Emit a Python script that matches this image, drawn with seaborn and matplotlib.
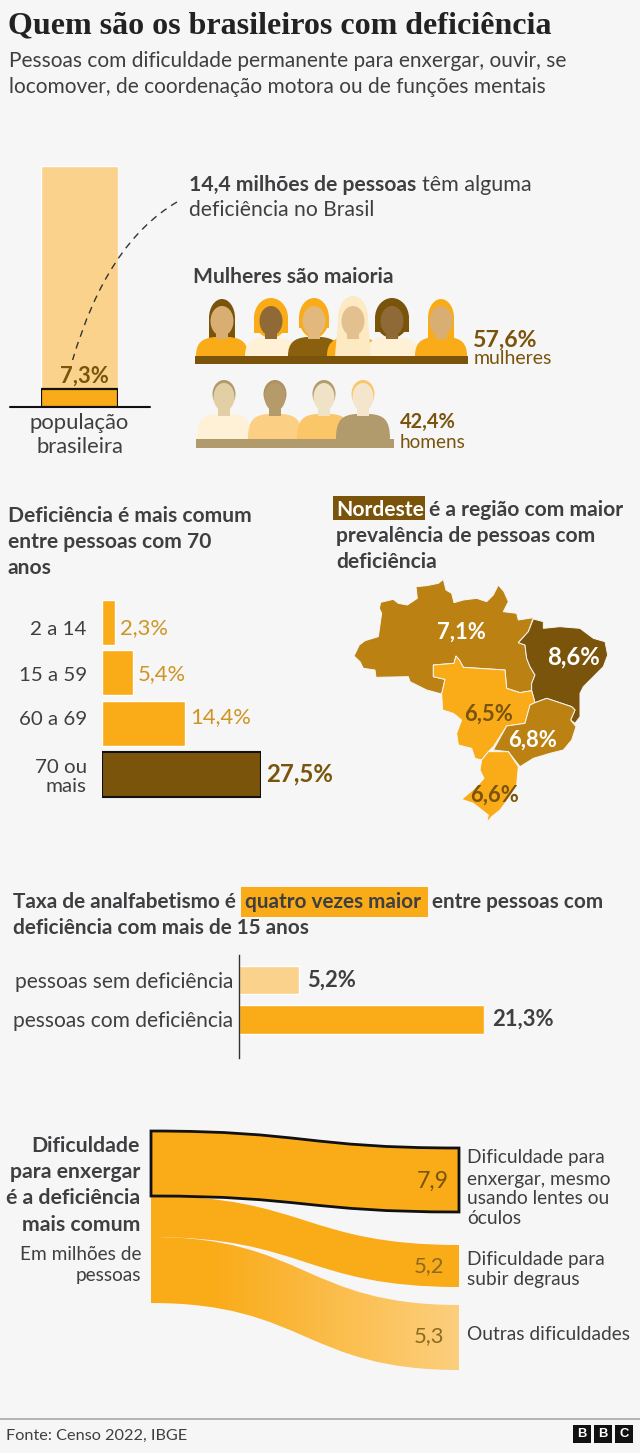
import numpy as np
import pandas as pd
import matplotlib
matplotlib.use("Agg")
import matplotlib.pyplot as plt
import seaborn as sns
from matplotlib.colors import LinearSegmentedColormap
from matplotlib.patches import Ellipse, PathPatch, Polygon, Rectangle
from matplotlib.path import Path
from matplotlib.transforms import ScaledTranslation

# Dados
age_groups = ["2 a 14", "15 a 59", "60 a 69", "70 ou\nmais"]
age_values = [2.3, 5.4, 14.4, 27.5]
age_labels = ["2,3%", "5,4%", "14,4%", "27,5%"]
illit_groups = ["pessoas sem deficiência", "pessoas com deficiência"]
illit_values = [5.2, 21.3]
illit_labels = ["5,2%", "21,3%"]
pop_total = 100
pop_share = 7.3
region_values = ["7,1%", "8,6%", "6,5%", "6,8%", "6,6%"]
sankey_values = ["7,9", "5,2", "5,3"]

# Contornos do mapa (pixels do zoom 3x)
north = [(72, 258), (88, 225), (105, 212), (145, 200), (155, 130), (148, 115), (152, 97), (190, 88), (205, 100),
         (232, 105), (262, 85), (258, 50), (290, 47), (325, 40), (340, 28), (348, 60), (365, 70), (372, 98), (400, 90),
         (440, 85), (470, 95), (490, 75), (505, 45), (522, 65), (535, 95), (520, 125), (560, 130), (565, 150),
         (610, 143), (595, 185), (565, 218), (585, 225), (590, 265), (600, 290), (615, 315), (605, 340), (605, 362),
         (570, 368), (530, 355), (525, 300), (400, 292), (388, 270), (378, 258), (372, 280), (310, 285), (310, 320),
         (345, 328), (335, 372), (290, 360), (240, 335), (235, 320), (138, 322), (135, 300), (100, 295), (90, 275)]
northeast = [(610, 147), (640, 155), (640, 175), (690, 170), (750, 175), (790, 205), (825, 215), (833, 255), (820, 290),
             (790, 320), (760, 350), (750, 370), (750, 440), (735, 460), (722, 450), (735, 420), (725, 410), (650, 385),
             (615, 398), (605, 362), (605, 340), (615, 315), (600, 290), (590, 265), (585, 225), (565, 218), (595, 185)]
center_west = [(310, 285), (372, 280), (378, 258), (388, 270), (400, 292), (525, 300), (530, 355), (570, 368), (605, 362),
               (615, 398), (600, 405), (585, 460), (530, 468), (490, 530), (475, 545), (455, 570), (435, 565), (425, 535),
               (385, 525), (380, 490), (395, 450), (370, 430), (338, 420), (335, 372), (345, 328), (310, 320)]
southeast = [(490, 540), (530, 468), (585, 460), (600, 405), (615, 398), (650, 385), (725, 410), (735, 420), (722, 450),
             (738, 470), (725, 510), (700, 540), (660, 550), (610, 565), (570, 590), (535, 545)]
south = [(475, 545), (535, 545), (565, 590), (560, 645), (540, 680), (510, 720), (485, 740), (470, 758), (475, 735),
         (430, 700), (395, 688), (440, 650), (462, 625), (450, 600), (455, 570)]

ORANGE = "#FAAB18"
PALE = "#FBD28B"
BROWN = "#7A540B"
MID = "#BB8213"
INK = "#3F3F42"
BG = "#F6F6F6"

sns.set_theme(style="white")
plt.rcParams["font.family"] = ["Lato", "DejaVu Sans"]

W, H = 640, 1453
fig = plt.figure(figsize=(W / 100, H / 100), dpi=100, facecolor=BG)

# eixo em pixels para textos e desenhos
bg = fig.add_axes([0, 0, 1, 1])
bg.set_xlim(0, W)
bg.set_ylim(H, 0)
bg.axis("off")


def px_axes(x0, y0, x1, y1):
    a = fig.add_axes([x0 / W, 1 - y1 / H, (x1 - x0) / W, (y1 - y0) / H])
    a.patch.set_alpha(0)
    return a


def put(x, y, s, size=19.1, color=INK, weight="normal", ha="left", **kw):
    return bg.text(x, y + 1, s, fontsize=size * 0.72, color=color, fontweight=weight, ha=ha, va="center", **kw)


# titulo
put(8, 25, "Quem são os brasileiros com deficiência", size=32, color="#222222", weight="bold", family="Liberation Serif")
put(9, 60, "Pessoas com dificuldade permanente para enxergar, ouvir, se", size=20.9)
put(9, 86, "locomover, de coordenação motora ou de funções mentais", size=20.9)

# barra da populacao
ax = px_axes(41, 166, 118, 407)
sns.barplot(x=["população\nbrasileira"], y=[pop_total], color=PALE, saturation=1, width=1, ax=ax)
sns.barplot(x=["população\nbrasileira"], y=[pop_share], color=ORANGE, saturation=1, width=1, ax=ax,
            edgecolor="#111111", linewidth=1.6)
ax.set_ylim(0, 100)
ax.set_yticks([])
ax.set_ylabel("")
sns.despine(ax=ax, left=True, bottom=True)
ax.tick_params(axis="x", length=0, pad=4, colors=INK, labelsize=22 * 0.72)
for t in ax.get_xticklabels():
    t.set_linespacing(1.28)
bg.plot([10, 150], [407, 407], color="#111111", lw=1.5)

curve = Path([(177, 202), (107, 243), (72.6, 360)], [Path.MOVETO, Path.CURVE3, Path.CURVE3])
fig_curve = PathPatch(curve, fc="none", ec="#333333", lw=1, ls=(0, (5, 4)), zorder=6)

put(189, 184, "14,4 milhões de pessoas", size=21.2, weight="bold")
put(422, 184, "têm alguma", size=21.5)
put(189, 209, "deficiência no Brasil", size=21.2)
put(193, 276, "Mulheres são maioria", size=21, weight="bold")


def person(cx, head_y, bottom, top, w, hair, face, shirt, hair_w, hair_h, head_w, head_h, hair_long=0, front=False):
    """silhueta simples: cabelo, rosto, pescoco, ombros"""
    if hair_long and not front:
        bg.add_patch(Rectangle((cx - hair_w, head_y), 2 * hair_w, hair_long, color=hair, lw=0, zorder=3))
    bg.add_patch(Ellipse((cx, head_y - 2), 2 * hair_w, hair_h, color=hair, lw=0, zorder=3))
    verts = [(cx - w, bottom), (cx - w, top + 6), (cx - w + 6, top + 1), (cx - 7, top), (cx + 7, top),
             (cx + w - 6, top + 1), (cx + w, top + 6), (cx + w, bottom), (cx - w, bottom)]
    codes = [Path.MOVETO, Path.CURVE4, Path.CURVE4, Path.CURVE4, Path.LINETO, Path.CURVE4, Path.CURVE4, Path.CURVE4,
             Path.CLOSEPOLY]
    bg.add_patch(PathPatch(Path(verts, codes), fc=shirt, ec="none", zorder=4))
    if hair_long and front:
        bg.add_patch(Polygon([(cx - hair_w, head_y), (cx + hair_w, head_y), (cx + hair_w + 3, bottom), (cx - hair_w - 3, bottom)],
                             fc=hair, ec="none", zorder=4.5))
    bg.add_patch(Rectangle((cx - 6, head_y + 4), 12, top - head_y - 2, color=face, lw=0, zorder=5))
    bg.add_patch(Ellipse((cx, head_y + 1), head_w, head_h, color=face, lw=0, zorder=5))


women = [(222, "#7A540B", "#D9AE73", ORANGE, 13, 38, 24, False),
         (271, ORANGE, "#8F6A37", "#FFF1D6", 17, 40, 13, False),
         (314, ORANGE, "#E3B87C", "#8A5F0E", 15, 40, 8, False),
         (353, "#FDE9C2", "#E3C08F", ORANGE, 15, 44, 36, True),
         (392, "#7A540B", "#8F6A37", "#FFF1D6", 17, 40, 12, False),
         (441, ORANGE, "#D9AE73", ORANGE, 13, 38, 30, False)]
for cx, hair, face, shirt, hw, hh, hl, fr in women:
    person(cx, 320, 356, 337, 26, hair, face, shirt, hw, hh, 23, 30, hl, fr)
bg.add_patch(Rectangle((195, 356), 273, 8, color=BROWN, lw=0, zorder=6))
put(473, 339, "57,6%", size=23, color=BROWN, weight="bold")
put(474, 357, "mulheres", size=19.5, color=BROWN)

men = [(224, "#B19A6B", "#E3CFA6", "#FFF1D6"),
       (275, "#AD9262", "#B59A6A", "#FBCF84"),
       (324, "#B19A6B", "#F0E2C6", "#FBC667"),
       (363, "#FBC667", "#F3E6CC", "#B19A6B")]
for cx, hair, face, shirt in men:
    person(cx, 396, 439, 414, 27, hair, face, shirt, 11.5, 28, 21, 28)
bg.add_patch(Rectangle((196, 439), 198, 9, color="#B19A6B", lw=0, zorder=6))
put(400, 421, "42,4%", size=20, color=BROWN, weight="bold")
put(400, 441, "homens", size=19, color=BROWN)

# idade
for y, s in zip([515, 541, 567], ["Deficiência é mais comum", "entre pessoas com 70", "anos"]):
    put(8, y, s, size=21, weight="bold")
df_age = pd.DataFrame({"idade": age_groups, "pct": age_values})
ax = px_axes(102, 597, 261, 799.5)
sns.barplot(df_age, y="idade", x="pct", hue="idade", palette=[ORANGE, ORANGE, ORANGE, BROWN], saturation=1,
            width=0.89, legend=False, ax=ax)
ax.set_xlim(0, 27.5)
ax.set_ylim(3.5, -0.5)
ax.set_xticks([])
ax.set_xlabel("")
ax.set_ylabel("")
sns.despine(ax=ax, left=True, bottom=True)
ax.tick_params(axis="y", length=0, pad=11, colors=INK, labelsize=20.5 * 0.72)
# rotulos nao ficam bem no centro das barras no original
label_shift = [6, 1, -6, 0]
for t, dy in zip(ax.get_yticklabels(), label_shift):
    t.set_multialignment("right")
    t.set_transform(t.get_transform() + ScaledTranslation(0, -dy / 100, fig.dpi_scale_trans))
for i, cont in enumerate(ax.containers):
    last = i == len(ax.containers) - 1
    anns = ax.bar_label(cont, labels=[age_labels[i]], padding=3.5, clip_on=False, fontsize=(24 if last else 22) * 0.72,
                        color=BROWN if last else "#CF9422", fontweight="bold" if last else "normal")
    anns[0].xyann = (anns[0].xyann[0], -label_shift[i] * 0.72)
ax.containers[-1][0].set_edgecolor("#111111")
ax.containers[-1][0].set_linewidth(1.5)

# mapa
for outline, col in [(north, MID), (northeast, BROWN), (center_west, ORANGE), (southeast, MID), (south, ORANGE)]:
    pts = [(330 + x / 3, 570 + y / 3) for x, y in outline]
    bg.add_patch(Polygon(pts, closed=True, fc=col, ec=BG, lw=0.7, zorder=3))
map_xy = [(461, 631), (574, 656), (489, 713), (533, 739), (495, 794)]
map_col = ["white", "white", BROWN, "white", BROWN]
map_size = [22, 24, 22, 22, 22]
for (x, y), s, c, fs in zip(map_xy, region_values, map_col, map_size):
    put(x, y, s, size=fs, color=c, weight="bold", ha="center", zorder=5)
bg.add_patch(Rectangle((333, 496), 92, 24, color=BROWN, lw=0))
put(336, 509, "Nordeste", size=21, color="white", weight="bold")
put(429, 509, "é a região com maior", size=21, weight="bold")
put(336, 535, "prevalência de pessoas com", size=21, weight="bold")
put(336, 561, "deficiência", size=21, weight="bold")

# analfabetismo
bg.add_patch(Rectangle((241, 887), 187, 30, color=ORANGE, lw=0))
put(13, 901, "Taxa de analfabetismo é", size=20.8, weight="bold")
put(245, 901, "quatro vezes maior", size=20.8, weight="bold")
put(432, 901, "entre pessoas com", size=20.8, weight="bold")
put(13, 927, "deficiência com mais de 15 anos", size=20.8, weight="bold")
df_ill = pd.DataFrame({"grupo": illit_groups, "pct": illit_values})
ax = px_axes(239, 955, 484, 1058)
sns.barplot(df_ill, y="grupo", x="pct", hue="grupo", palette=[PALE, ORANGE], saturation=1, width=0.73, legend=False, ax=ax)
ax.set_xlim(0, 21.3)
ax.set_ylim(1.975, -0.633)
ax.set_xticks([])
ax.set_xlabel("")
ax.set_ylabel("")
sns.despine(ax=ax, bottom=True)
ax.spines["left"].set_color("#333333")
ax.spines["left"].set_linewidth(1)
ax.tick_params(axis="y", length=0, pad=4, colors=INK, labelsize=21 * 0.72)
for i, cont in enumerate(ax.containers):
    ax.bar_label(cont, labels=[illit_labels[i]], padding=6, clip_on=False, fontsize=22 * 0.72, color=INK, fontweight="bold")

# sankey
x_l, x_r = 151, 459
left_top = [1131, 1196, 1237]
left_bot = [1196, 1237, 1303]
right_top = [1148, 1245, 1305]
right_bot = [1212, 1287, 1370]


def ribbon(lt, lb, rt, rb):
    xm = (x_l + x_r) / 2
    verts = [(x_l, lt), (xm, lt), (xm, rt), (x_r, rt), (x_r, rb), (xm, rb), (xm, lb), (x_l, lb), (x_l, lt)]
    codes = [Path.MOVETO, Path.CURVE4, Path.CURVE4, Path.CURVE4, Path.LINETO, Path.CURVE4, Path.CURVE4, Path.CURVE4,
             Path.CLOSEPOLY]
    return Path(verts, codes)


grad = LinearSegmentedColormap.from_list("g", [(0, ORANGE), (0.2, ORANGE), (1, "#FCCF7E")])
third = PathPatch(ribbon(left_top[2], left_bot[2], right_top[2], right_bot[2]), fc="none", ec="none", zorder=2)
bg.add_patch(third)
im = bg.imshow(np.linspace(0, 1, 256).reshape(1, -1), cmap=grad, extent=(x_l, x_r, 1375, 1230), aspect="auto", zorder=2)
im.set_clip_path(third)
bg.set_xlim(0, W)
bg.set_ylim(H, 0)
bg.add_patch(PathPatch(ribbon(left_top[1], left_bot[1], right_top[1], right_bot[1]), fc=ORANGE, ec="none", zorder=3))
bg.add_patch(PathPatch(ribbon(left_top[0], left_bot[0], right_top[0], right_bot[0]), fc=ORANGE, ec="#111111", lw=2,
                       joinstyle="miter", zorder=4))
put(433, 1180, sankey_values[0], size=23, color=BROWN, ha="center", zorder=5)
put(429, 1265, sankey_values[1], size=22, color="#8E6A1E", ha="center", zorder=5)
put(429, 1335, sankey_values[2], size=22, color="#8E6A1E", ha="center", zorder=5)
for y, s in zip([1145, 1171, 1197, 1224], ["Dificuldade", "para enxergar", "é a deficiência", "mais comum"]):
    put(140, y, s, size=21.3, weight="bold", ha="right")
put(141, 1253, "Em milhões de", size=19, ha="right")
put(141, 1274, "pessoas", size=19, ha="right")
for y, s in zip([1157, 1178, 1198, 1218], ["Dificuldade para", "enxergar, mesmo", "usando lentes ou", "óculos"]):
    put(467, y, s)
put(467, 1259, "Dificuldade para")
put(467, 1279, "subir degraus")
put(467, 1334, "Outras dificuldades")

# rodape
bg.plot([0, 640], [1419, 1419], color="#A8A8A8", lw=1.2)
put(6, 1435, "Fonte: Censo 2022, IBGE", size=16.2)
for x0, letter in zip([573, 594, 615], "BBC"):
    bg.add_patch(Rectangle((x0, 1425), 18, 18, color="#111111", lw=0))
    put(x0 + 9, 1433, letter, size=13, color="white", weight="bold", ha="center", family="Liberation Sans")

# curva tracejada e 7,3% por cima de tudo
top = px_axes(0, 0, W, H)
top.set_xlim(0, W)
top.set_ylim(H, 0)
top.axis("off")
top.add_patch(fig_curve)
top.text(84, 376, "7,3%", fontsize=22 * 0.72, color=BROWN, fontweight="bold", ha="center", va="center")

fig.savefig("out.png", dpi=100, facecolor=BG)
